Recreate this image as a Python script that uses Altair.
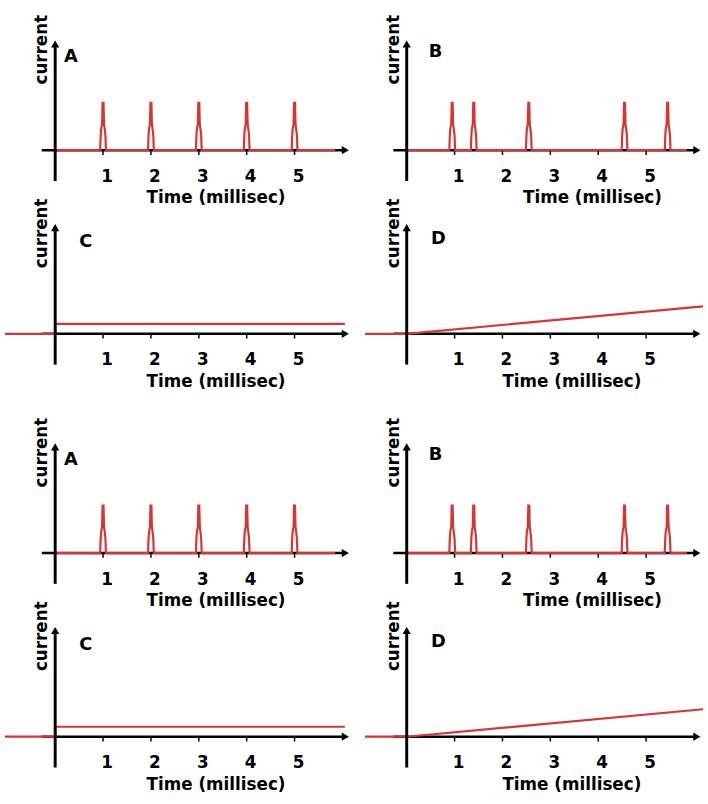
import altair as alt
import pandas as pd

# ---------------- data ----------------
PANEL_IDS = ["A", "B", "C", "D", "A", "B", "C", "D"]
TICK_VALUES = [1, 2, 3, 4, 5]
TICK_LABELS = ["1", "2", "3", "4", "5"]

SPIKES_A = [1.0, 2.0, 3.0, 4.0, 5.0]          # ms
SPIKES_B = [0.95, 1.4, 2.55, 4.55, 5.45]      # ms
# shape of one spike (offset in ms, relative current)
SPIKE_DT = [-0.06, -0.05, -0.04, -0.02, -0.01, 0.01, 0.02, 0.04, 0.05, 0.06]
SPIKE_I = [0.0, 0.3, 0.45, 0.55, 1.0, 1.0, 0.55, 0.4, 0.3, 0.0]
TRAIN_START, TRAIN_END = 0.0, 5.85

C_T = [-1.05, 0.0, 0.0, 6.05]
C_I = [0.0, 0.0, 0.21, 0.21]
D_T = [-0.87, 0.0, 6.19]
D_I = [0.0, 0.0, 0.58]

LETTER_POS = {"A": (0.33, 1.96), "B": (0.6, 2.06), "C": (0.64, 1.94), "D": (0.66, 2.0)}
TIME_LABEL_T = {"A": 3.36, "B": 3.88, "C": 3.36, "D": 3.45}

# ---------------- layout ----------------
X_DOMAIN = [-1.07, 6.19]
PX_PER_UNIT = 48.0
W = 352
ROW_PITCH = 198
AXIS_OFFSETS = [147, 135, 159, 147]
RED = "#d93434"
FONT = "DejaVu Sans"


def train(spikes):
    ts, cs = [TRAIN_START], [0.0]
    for s in spikes:
        for dt, c in zip(SPIKE_DT, SPIKE_I):
            ts.append(s + dt)
            cs.append(c)
    ts.append(TRAIN_END)
    cs.append(0.0)
    return pd.DataFrame({"t": ts, "i": cs, "o": range(len(ts))})


CURVES = {
    "A": train(SPIKES_A),
    "B": train(SPIKES_B),
    "C": pd.DataFrame({"t": C_T, "i": C_I, "o": range(len(C_T))}),
    "D": pd.DataFrame({"t": D_T, "i": D_I, "o": range(len(D_T))}),
}


def panel(pid, row):
    off = AXIS_OFFSETS[row]
    xs = alt.Scale(domain=X_DOMAIN, nice=False, zero=False)
    ys = alt.Scale(domain=[-(ROW_PITCH - off) / PX_PER_UNIT, off / PX_PER_UNIT], nice=False, zero=False)
    X = lambda f: alt.X(f, type="quantitative", scale=xs, axis=None)
    Y = lambda f: alt.Y(f, type="quantitative", scale=ys, axis=None)

    xaxis = alt.Chart(pd.DataFrame({"t": [-0.28], "t2": [6.02], "i": [0.0]})).mark_rule(
        color="black", strokeWidth=2.5).encode(x=X("t"), x2="t2", y=Y("i"))
    xarrow = alt.Chart(pd.DataFrame({"t": [6.06], "i": [0.0]})).mark_point(
        shape="triangle-right", filled=True, color="black", size=70, opacity=1).encode(x=X("t"), y=Y("i"))
    ticks = alt.Chart(pd.DataFrame({"t": TICK_VALUES, "i": [0.0] * 5, "i2": [-0.1] * 5})).mark_rule(
        color="black", strokeWidth=1.5).encode(x=X("t"), y=Y("i"), y2="i2")
    curve = alt.Chart(CURVES[pid]).mark_line(color=RED, strokeWidth=2.2, interpolate="linear").encode(
        x=X("t"), y=Y("i"), order="o:Q")
    yaxis = alt.Chart(pd.DataFrame({"t": [0.0], "i": [-0.65], "i2": [2.2]})).mark_rule(
        color="black", strokeWidth=3).encode(x=X("t"), y=Y("i"), y2="i2")
    yarrow = alt.Chart(pd.DataFrame({"t": [0.0], "i": [2.24]})).mark_point(
        shape="triangle-up", filled=True, color="black", size=70, opacity=1).encode(x=X("t"), y=Y("i"))
    tlab = alt.Chart(pd.DataFrame({"t": TICK_VALUES, "i": [-0.56] * 5, "s": TICK_LABELS})).mark_text(
        font=FONT, fontSize=17, fontWeight="bold", color="black", dx=4, baseline="middle").encode(
        x=X("t"), y=Y("i"), text="s:N")
    time_lab = alt.Chart(pd.DataFrame({"t": [TIME_LABEL_T[pid]], "i": [-1.02], "s": ["Time (millisec)"]})).mark_text(
        font=FONT, fontSize=17, fontWeight="bold", color="black", baseline="middle").encode(
        x=X("t"), y=Y("i"), text="s:N")
    cur_lab = alt.Chart(pd.DataFrame({"t": [-0.27], "i": [2.12], "s": ["current"]})).mark_text(
        font=FONT, fontSize=17, fontWeight="bold", color="black", angle=270, baseline="middle").encode(
        x=X("t"), y=Y("i"), text="s:N")
    lx, ly = LETTER_POS[pid]
    letter = alt.Chart(pd.DataFrame({"t": [lx], "i": [ly], "s": [pid]})).mark_text(
        font=FONT, fontSize=18, fontWeight="bold", color="black", baseline="middle").encode(
        x=X("t"), y=Y("i"), text="s:N")

    return alt.layer(xaxis, ticks, curve, yaxis, xarrow, yarrow, tlab, time_lab, cur_lab, letter).properties(
        width=W, height=ROW_PITCH)


panels = [panel(pid, k // 2) for k, pid in enumerate(PANEL_IDS)]

chart = alt.concat(*panels, columns=2, spacing={"row": 0, "column": 4}, bounds="flush").properties(
    padding=0, background="white"
).configure_view(stroke=None)

chart.save("out.html", embed_options={"renderer": "svg", "actions": False})
